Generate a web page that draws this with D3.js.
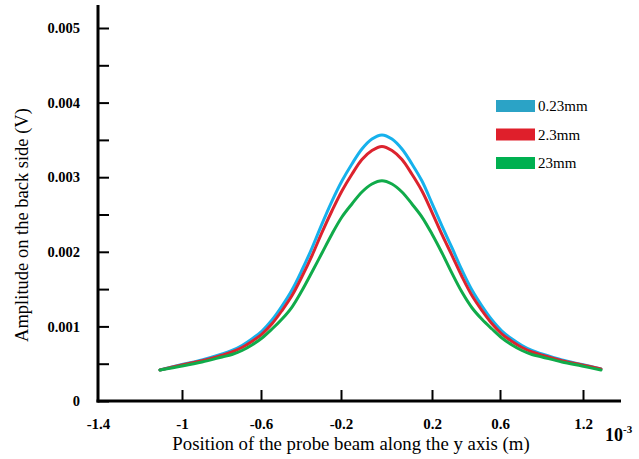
<!DOCTYPE html>
<html>
<head>
<meta charset="utf-8">
<script src="https://cdn.jsdelivr.net/npm/d3@7"></script>
<style>
  html, body { margin: 0; padding: 0; background: #fff; }
  svg { display: block; }
</style>
</head>
<body>
<svg id="chart" width="639" height="459"></svg>
<script>
// ---- data ----
const seriesNames = ["0.23mm", "2.3mm", "23mm"];
const xTickValues = [-1.4, -1, -0.6, -0.2, 0.2, 0.6, 1.2];
const yTickValues = [0, 0.0005, 0.001, 0.0015, 0.002, 0.0025, 0.003, 0.0035, 0.004, 0.0045, 0.005];
const yTickLabels = ["0", "", "0.001", "", "0.002", "", "0.003", "", "0.004", "", "0.005"];

const positions = [-1.105, -1.0, -0.899, -0.797, -0.747, -0.696, -0.646, -0.595, -0.545, -0.495,
  -0.445, -0.395, -0.345, -0.295, -0.245, -0.196, -0.152, -0.108, -0.064, -0.02,
  0.024, 0.068, 0.112, 0.156, 0.2, 0.259, 0.318, 0.376, 0.435, 0.494,
  0.553, 0.614, 0.687, 0.759, 0.831, 0.904, 1.048, 1.193, 1.33];

// amplitudes in V
const amp023mm = [0.000416, 0.000489, 0.00055, 0.00063, 0.000677, 0.000744, 0.000831, 0.000938, 0.001086, 0.001273,
  0.001488, 0.001756, 0.002051, 0.002375, 0.00268, 0.002949, 0.003177, 0.003378, 0.003512, 0.003566,
  0.003512, 0.003378, 0.003177, 0.002949, 0.00265, 0.002345, 0.002051, 0.001756, 0.001488, 0.001273,
  0.001086, 0.000938, 0.000831, 0.000744, 0.000677, 0.00063, 0.00055, 0.000489, 0.000429];

const amp2p3mm = [0.000416, 0.000483, 0.000539, 0.000614, 0.000657, 0.000717, 0.000798, 0.000898, 0.001035, 0.001213,
  0.001414, 0.001669, 0.00195, 0.00226, 0.00255, 0.002815, 0.003039, 0.003237, 0.003358, 0.003412,
  0.003358, 0.003237, 0.003039, 0.002815, 0.00253, 0.00223, 0.00195, 0.001669, 0.001414, 0.001213,
  0.001035, 0.000898, 0.000798, 0.000717, 0.000657, 0.000614, 0.000539, 0.000483, 0.000429];

const amp23mm = [0.000416, 0.000469, 0.000523, 0.00059, 0.000623, 0.000677, 0.000751, 0.000845, 0.000965, 0.001099,
  0.00126, 0.001481, 0.001729, 0.001984, 0.002239, 0.002466, 0.002641, 0.002802, 0.002909, 0.002953,
  0.002909, 0.002802, 0.002641, 0.002466, 0.002239, 0.001984, 0.00171, 0.00146, 0.00125, 0.001095,
  0.000965, 0.000845, 0.000751, 0.000677, 0.000623, 0.00059, 0.000523, 0.000469, 0.000416];

const seriesValues = [amp023mm, amp2p3mm, amp23mm];
const lineColors = ["#16b1ec", "#dc232e", "#10ab4a"];
const swatchColors = ["#2ba3c6", "#df1f2b", "#00b050"];

// ---- layout ----
const svg = d3.select("#chart");
const originX = 98, originY = 401;
const axisRight = 621, axisTop = 5;
const font = "'Liberation Serif', 'Times New Roman', serif";

// the figure's x tick labels are unevenly spaced: piecewise-linear scale
const xOffsets = [0, 84, 163, 243, 334, 402, 485];
const x = d3.scaleLinear()
  .domain(xTickValues)
  .range(xOffsets.map(o => originX + o));

const y = d3.scaleLinear()
  .domain([0, 0.005])
  .range([originY, 28]);

// ---- curves (blue first, green on top) ----
const line = d3.line()
  .x(d => x(d[0]))
  .y(d => y(d[1]))
  .curve(d3.curveCatmullRom.alpha(0.5));

seriesValues.forEach((vals, i) => {
  svg.append("path")
    .datum(positions.map((p, j) => [p, vals[j]]))
    .attr("fill", "none")
    .attr("stroke", lineColors[i])
    .attr("stroke-width", 3)
    .attr("stroke-linejoin", "round")
    .attr("stroke-linecap", "round")
    .attr("d", line);
});

// ---- y axis ----
const yAxis = d3.axisLeft(y)
  .tickValues(yTickValues)
  .tickFormat((d, i) => yTickLabels[i])
  .tickSize(-11)
  .tickSizeOuter(0)
  .tickPadding(18);

const gy = svg.append("g")
  .attr("transform", `translate(${originX},0)`)
  .call(yAxis);
gy.attr("font-family", font);
gy.select(".domain").remove();
gy.selectAll(".tick line").attr("stroke", "#000").attr("stroke-width", 2);
gy.selectAll(".tick text")
  .attr("fill", "#000")
  .style("font-family", font)
  .attr("font-size", 14.5)
  .attr("font-weight", "bold");

// ---- x axis ----
const xAxis = d3.axisBottom(x)
  .tickValues(xTickValues)
  .tickFormat(d => String(d))
  .tickSize(-11)
  .tickSizeOuter(0)
  .tickPadding(17);

const gx = svg.append("g")
  .attr("transform", `translate(0,${originY})`)
  .call(xAxis);
gx.attr("font-family", font);
gx.select(".domain").remove();
gx.selectAll(".tick line")
  .attr("stroke", "#000")
  .attr("stroke-width", 2)
  .attr("opacity", (d, i) => i === 0 ? 0 : 1);
gx.selectAll(".tick text")
  .attr("fill", "#000")
  .style("font-family", font)
  .attr("font-size", 15)
  .attr("font-weight", "bold");

// axis lines
svg.append("line")
  .attr("x1", originX).attr("x2", originX)
  .attr("y1", axisTop).attr("y2", originY + 1.5)
  .attr("stroke", "#000").attr("stroke-width", 3);
svg.append("line")
  .attr("x1", originX - 1.5).attr("x2", axisRight)
  .attr("y1", originY).attr("y2", originY)
  .attr("stroke", "#000").attr("stroke-width", 3);

// ---- axis titles ----
svg.append("text")
  .attr("x", 351).attr("y", 450)
  .attr("text-anchor", "middle")
  .style("font-family", font)
  .attr("font-size", 18.8)
  .text("Position of the probe beam along the y axis (m)");

svg.append("text")
  .attr("transform", "translate(22,225) rotate(-90)")
  .attr("text-anchor", "middle")
  .attr("dominant-baseline", "central")
  .style("font-family", font)
  .attr("font-size", 18.5)
  .text("Amplitude on the back side (V)");

const exp = svg.append("text")
  .attr("x", 605).attr("y", 441)
  .style("font-family", font)
  .attr("font-weight", "bold")
  .attr("font-size", 18);
exp.append("tspan").text("10");
exp.append("tspan").attr("dy", -8).attr("font-size", 11).text("-3");

// ---- legend ----
const legend = svg.append("g").attr("transform", "translate(496,100)");
seriesNames.forEach((name, i) => {
  const g = legend.append("g").attr("transform", `translate(0,${i * 28.5})`);
  g.append("rect")
    .attr("x", 0).attr("y", 0)
    .attr("width", 39).attr("height", 12)
    .attr("fill", swatchColors[i]);
  g.append("text")
    .attr("x", 42).attr("y", 6)
    .attr("dominant-baseline", "central")
    .style("font-family", font)
    .attr("font-size", 15)
    .text(name);
});
</script>
</body>
</html>
